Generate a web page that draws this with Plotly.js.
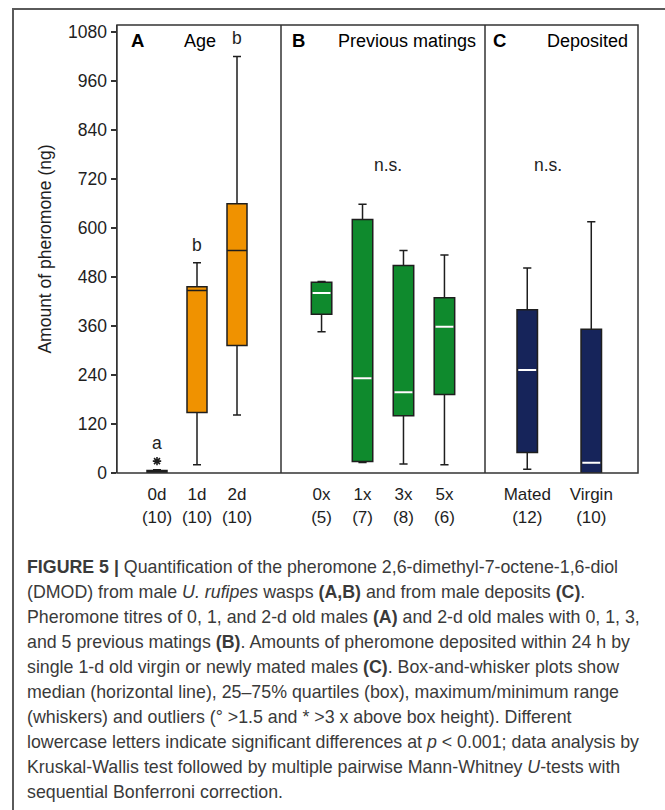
<!DOCTYPE html>
<html>
<head>
<meta charset="utf-8">
<script src="https://cdn.plot.ly/plotly-3.0.1.min.js"></script>
<style>
  html, body { margin: 0; padding: 0; background: #fff; }
  #wrap { position: relative; width: 665px; height: 810px; overflow: hidden; }
  #plot { position: absolute; left: 0; top: 0; width: 665px; height: 810px; }
  #frame { position: absolute; left: 12px; top: 8px; right: -5px; bottom: -5px;
           border-top: 2px solid #5a5a5a; border-left: 2px solid #5a5a5a; pointer-events: none; }
</style>
</head>
<body>
<div id="wrap">
  <div id="plot"></div>
  <div id="frame"></div>
</div>
<script>
// ---------- DATA ----------
// Panel A: Age
const ageCats   = ['0d', '1d', '2d'];
const ageN      = ['(10)', '(10)', '(10)'];
const ageLow    = [0, 20, 142];
const ageQ1     = [1, 148, 312];
const ageMed    = [4, 447, 545];
const ageQ3     = [6, 456, 659];
const ageHigh   = [8, 515, 1020];
const ageSig    = ['a', 'b', 'b'];
const ageOutX   = ['0d'];
const ageOutY   = [29];

// Panel B: Previous matings
const matCats   = ['0x', '1x', '3x', '5x'];
const matN      = ['(5)', '(7)', '(8)', '(6)'];
const matLow    = [346, 26, 22, 20];
const matQ1     = [389, 28, 140, 192];
const matMed    = [441, 232, 198, 358];
const matQ3     = [467, 621, 508, 429];
const matHigh   = [469, 658, 545, 534];

// Panel C: Deposited
const depCats   = ['Mated', 'Virgin'];
const depN      = ['(12)', '(10)'];
const depLow    = [9, 0];
const depQ1     = [50, 0];
const depMed    = [252, 25];
const depQ3     = [400, 352];
const depHigh   = [502, 615];

const yTicks    = [0, 120, 240, 360, 480, 600, 720, 840, 960, 1080];

const captionLines = [
  '<b>FIGURE 5 |</b> Quantification of the pheromone 2,6-dimethyl-7-octene-1,6-diol',
  '(DMOD) from male <i>U. rufipes</i> wasps <b>(A,B)</b> and from male deposits <b>(C)</b>.',
  'Pheromone titres of 0, 1, and 2-d old males <b>(A)</b> and 2-d old males with 0, 1, 3,',
  'and 5 previous matings <b>(B)</b>. Amounts of pheromone deposited within 24 h by',
  'single 1-d old virgin or newly mated males <b>(C)</b>. Box-and-whisker plots show',
  'median (horizontal line), 25–75% quartiles (box), maximum/minimum range',
  '(whiskers) and outliers (° &gt;1.5 and * &gt;3 x above box height). Different',
  'lowercase letters indicate significant differences at <i>p</i> &lt; 0.001; data analysis by',
  'Kruskal-Wallis test followed by multiple pairwise Mann-Whitney <i>U</i>-tests with',
  'sequential Bonferroni correction.'
];

// ---------- STYLE ----------
const FONT = '"Liberation Sans", Arial, Helvetica, sans-serif';
const INK = '#1e1e1e';
const ORANGE = '#F09200';
const GREEN = '#0F8A2D';
const NAVY = '#16245A';

function boxTrace(xa, cats, lo, q1, med, q3, hi, fill, w) {
  return {
    type: 'box', xaxis: xa, yaxis: 'y',
    x: cats, q1: q1, median: med, q3: q3, lowerfence: lo, upperfence: hi,
    fillcolor: fill, line: { color: INK, width: 1.5 },
    width: w, whiskerwidth: 0.4, boxpoints: false, showlegend: false, hoverinfo: 'skip'
  };
}
function medianTrace(xa, cats, med, w) {
  return {
    type: 'box', xaxis: xa, yaxis: 'y',
    x: cats, q1: med, median: med, q3: med, lowerfence: med, upperfence: med,
    fillcolor: 'rgba(0,0,0,0)', line: { color: '#ffffff', width: 2 },
    width: w, whiskerwidth: 0, boxpoints: false, showlegend: false, hoverinfo: 'skip'
  };
}

const data = [
  boxTrace('x', ageCats, ageLow, ageQ1, ageMed, ageQ3, ageHigh, ORANGE, 0.5),
  boxTrace('x2', matCats, matLow, matQ1, matMed, matQ3, matHigh, GREEN, 0.5),
  medianTrace('x2', matCats, matMed, 0.44),
  boxTrace('x3', depCats, depLow, depQ1, depMed, depQ3, depHigh, NAVY, 0.32),
  medianTrace('x3', depCats, depMed, 0.28),
  {
    type: 'scatter', mode: 'markers', xaxis: 'x', yaxis: 'y',
    x: ageOutX, y: ageOutY, showlegend: false, hoverinfo: 'skip',
    marker: { symbol: 'asterisk-open', size: 7, color: INK, line: { color: INK, width: 1.6 } }
  }
];

const W = 665, H = 810;
const mL = 117, mR = 27, mT = 25, mB = 337;
const pw = W - mL - mR, ph = H - mT - mB;
const dA = [0, 164 / pw];
const dB = [164 / pw, 368 / pw];
const dC = [368 / pw, 1];

function tickText(cats, ns) { return cats.map((c, i) => c + '<br>' + ns[i]); }

function xAxis(domain, cats, ns, range) {
  return {
    domain: domain, anchor: 'y', type: 'category',
    categoryarray: cats, categoryorder: 'array', range: range,
    tickmode: 'array', tickvals: cats, ticktext: tickText(cats, ns),
    ticks: 'outside', ticklen: 6, tickcolor: 'rgba(0,0,0,0)',
    showline: false, showgrid: false, zeroline: false, fixedrange: true,
    tickfont: { family: FONT, size: 17, color: INK }
  };
}

const annotations = [];
// significance letters (Panel A)
ageCats.forEach((c, i) => {
  const top = Math.max(ageHigh[i], ...ageOutY.filter((v, j) => ageOutX[j] === c));
  annotations.push({ xref: 'x', yref: 'y', x: c, y: top, text: ageSig[i], showarrow: false,
    yanchor: 'bottom', yshift: 6, font: { family: FONT, size: 17.5, color: INK } });
});
// n.s.
annotations.push({ xref: 'x2 domain', yref: 'y', x: 0.525, y: 754, text: 'n.s.', showarrow: false,
  font: { family: FONT, size: 17.5, color: INK } });
annotations.push({ xref: 'x3 domain', yref: 'y', x: 0.41, y: 754, text: 'n.s.', showarrow: false,
  font: { family: FONT, size: 17.5, color: INK } });
// panel titles
const titleY = (473 - 41) / ph;
[
  ['x domain', 0.122, '<b>A</b>', 18.5],
  ['x domain', 0.506, 'Age', 18],
  ['x2 domain', 0.088, '<b>B</b>', 18.5],
  ['x2 domain', 0.618, 'Previous matings', 18],
  ['x3 domain', 0.092, '<b>C</b>', 18.5],
  ['x3 domain', 0.667, 'Deposited', 18]
].forEach(t => annotations.push({
  xref: t[0], yref: 'paper', x: t[1], y: titleY, text: t[2], showarrow: false,
  xanchor: 'center', yanchor: 'middle', font: { family: FONT, size: t[3], color: '#000' }
}));
// caption
captionLines.forEach((line, i) => {
  const ypx = 567 + 25 * i;
  annotations.push({
    xref: 'paper', yref: 'paper', x: (25 - mL) / pw, y: (mT + ph - ypx) / ph,
    xanchor: 'left', yanchor: 'middle', showarrow: false, text: line,
    font: { family: FONT, size: 17.8, color: '#3a3a3a' }
  });
});

const shapes = [
  { type: 'rect', xref: 'paper', yref: 'paper', x0: 0, x1: 1, y0: 0, y1: 1,
    line: { color: '#333', width: 1.5 }, fillcolor: 'rgba(0,0,0,0)' },
  { type: 'line', xref: 'x2 domain', yref: 'paper', x0: 0, x1: 0, y0: 0, y1: 1,
    line: { color: '#333', width: 1.5 } },
  { type: 'line', xref: 'x3 domain', yref: 'paper', x0: 0, x1: 0, y0: 0, y1: 1,
    line: { color: '#333', width: 1.5 } }
];

const layout = {
  width: W, height: H,
  margin: { l: mL, r: mR, t: mT, b: mB, pad: 0 },
  paper_bgcolor: '#fff', plot_bgcolor: '#fff',
  showlegend: false,
  font: { family: FONT, color: INK },
  xaxis: xAxis(dA, ageCats, ageN, [-1.0, 3.1]),
  xaxis2: xAxis(dB, matCats, matN, [-0.99, 3.99]),
  xaxis3: xAxis(dC, depCats, depN, [-0.66, 1.73]),
  yaxis: {
    range: [0, 1097], tickmode: 'array', tickvals: yTicks, ticktext: yTicks.map(String),
    ticks: 'outside', ticklen: 5, tickwidth: 1.5, tickcolor: '#333',
    showline: true, linecolor: '#333', linewidth: 1.5,
    showgrid: false, zeroline: false, fixedrange: true,
    tickfont: { family: FONT, size: 17.5, color: INK },
    title: { text: 'Amount of pheromone (ng)', standoff: 12, font: { family: FONT, size: 17.5, color: INK } }
  },
  annotations: annotations,
  shapes: shapes
};

Plotly.newPlot('plot', data, layout, { staticPlot: true, displayModeBar: false });
</script>
</body>
</html>
